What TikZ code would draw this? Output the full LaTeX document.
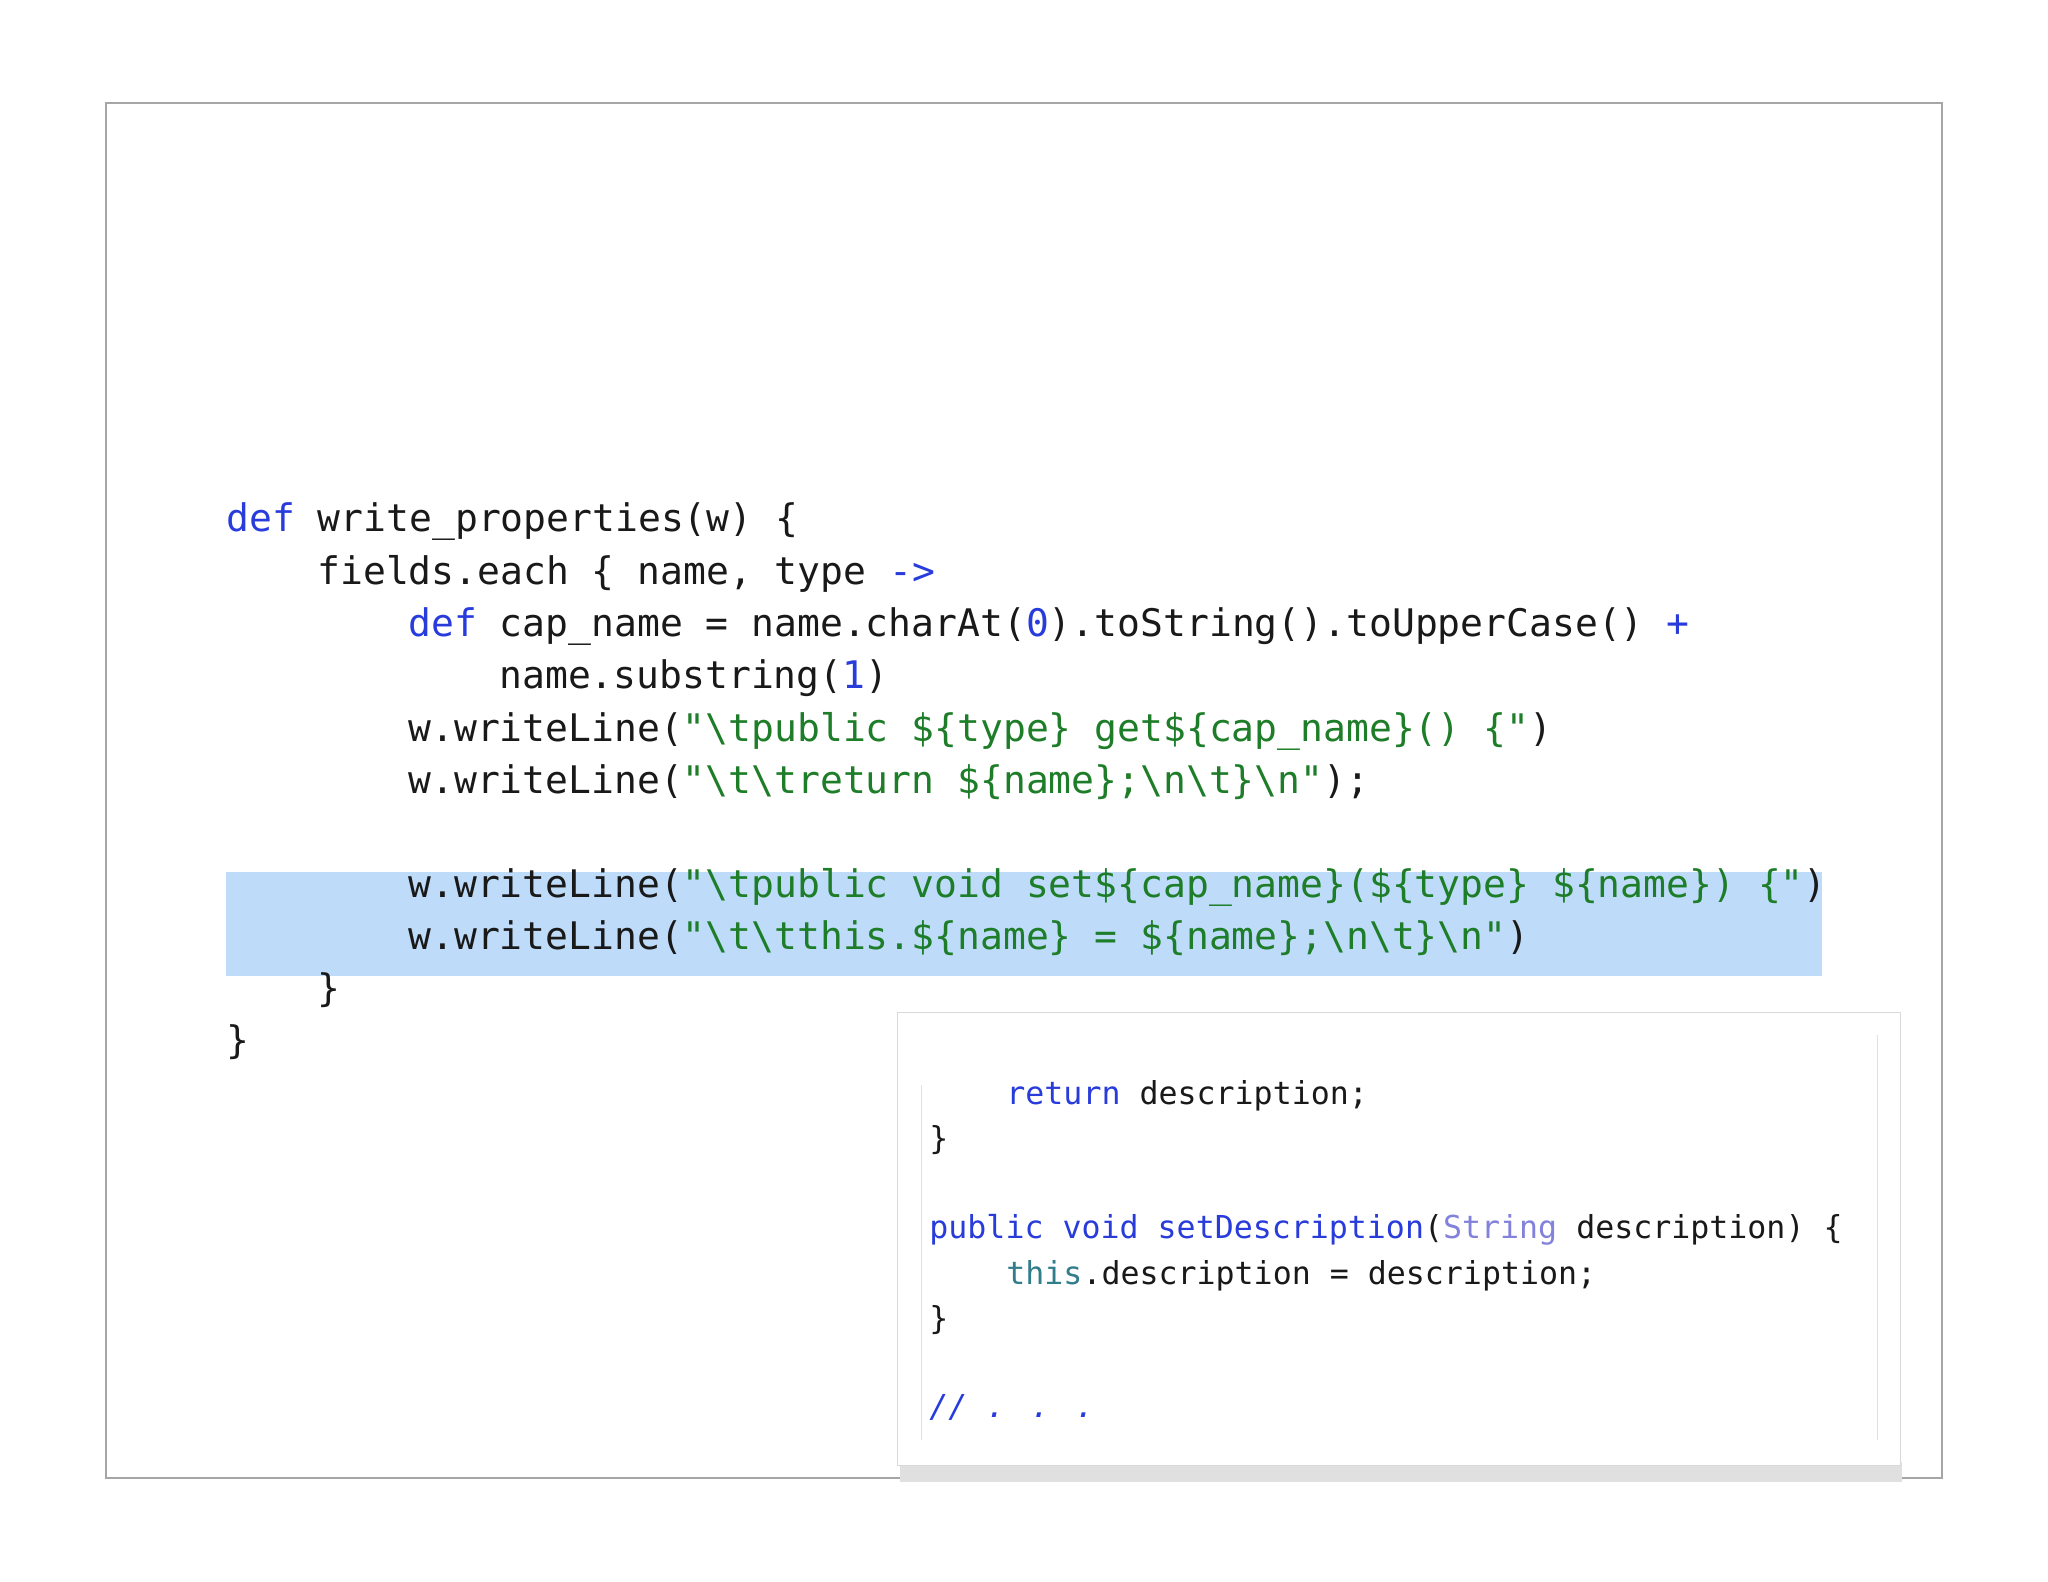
\documentclass[tikz,border=0pt]{standalone}
\usepackage{fontspec}
\setmonofont{DejaVu Sans Mono}
\newfontfamily\cf{DejaVu Sans Mono}
\definecolor{kw}{RGB}{40,60,220}
\definecolor{st}{RGB}{30,125,40}
\definecolor{hl}{RGB}{190,220,250}
\definecolor{ty}{RGB}{130,130,220}
\definecolor{th}{RGB}{50,125,140}
\definecolor{tx}{RGB}{25,25,25}
\newcommand{\bs}{\char92 }
\newcommand{\KW}[1]{\textcolor{kw}{#1}}
\newcommand{\STR}[1]{\textcolor{st}{#1}}
\begin{document}
\begin{tikzpicture}[x=0.5pt,y=-0.5pt,
  code/.style={anchor=base west,inner sep=0,font=\cf\fontsize{19}{22}\selectfont,text=tx},
  small/.style={anchor=base west,inner sep=0,font=\cf\fontsize{15.8}{19}\selectfont,text=tx}]
\useasboundingbox (0,0) rectangle (2048,1582);
\draw[gray!70,line width=0.8pt] (106,103) rectangle (1942,1478);
\fill[hl] (226,872) rectangle (1822,976);
\node[code] (l1) at (226,532) {\KW{def} write\_properties(w) \{};
\node[code] (l2) at (317,584) {fields.each \{ name, type \KW{->}};
\node[code] (l3) at (408,636) {\KW{def} cap\_name = name.charAt(\KW{0}).toString().toUpperCase() \KW{+}};
\node[code] (l4) at (499,688) {name.substring(\KW{1})};
\node[code] (l5) at (408,741) {w.writeLine(\STR{"\bs tpublic \$\{type\} get\$\{cap\_name\}() \{"})};
\node[code] (l6) at (408,793) {w.writeLine(\STR{"\bs t\bs treturn \$\{name\};\bs n\bs t\}\bs n"});};
\node[code] (l7) at (408,897) {w.writeLine(\STR{"\bs tpublic void set\$\{cap\_name\}(\$\{type\} \$\{name\}) \{"})};
\node[code] (l8) at (408,949) {w.writeLine(\STR{"\bs t\bs tthis.\$\{name\} = \$\{name\};\bs n\bs t\}\bs n"})};
\node[code] (l9) at (317,1001) {\}};
\node[code] (l10) at (226,1053) {\}};
% inset
\fill[black!25] (905,1455) rectangle (1898,1478);
\fill[black!12] (900,1462) rectangle (1902,1482);
\fill[white,draw=black!15] (897,1012) rectangle (1900,1465);
\draw[black!12] (921,1085) -- (921,1440);
\draw[black!12] (1877,1035) -- (1877,1440);
\node[small] (s1) at (1006,1104) {\KW{return} description;};
\node[small] (s2) at (929,1149) {\}};
\node[small] (s3) at (929,1238) {\KW{public} \KW{void} \KW{setDescription}(\textcolor{ty}{String} description) \{};
\node[small] (s4) at (1006,1284) {\textcolor{th}{this}.description = description;};
\node[small] (s5) at (929,1329) {\}};
\node[small] (s6) at (929,1417) {\KW{\itshape // . . .}};
\end{tikzpicture}
\end{document}
